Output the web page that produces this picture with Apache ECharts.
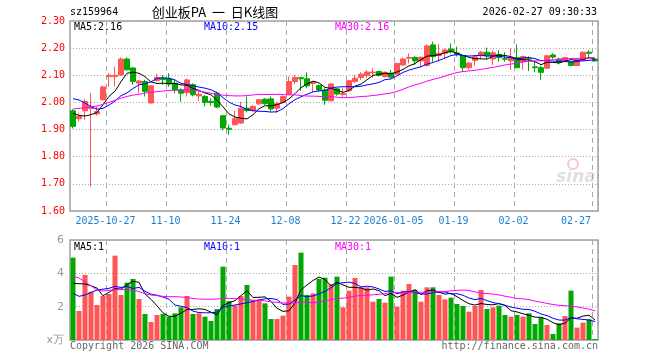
<!DOCTYPE html>
<html><head><meta charset="utf-8">
<script src="https://cdn.jsdelivr.net/npm/echarts@6/dist/echarts.min.js"></script>
<style>html,body{margin:0;padding:0;background:#fff}#c{width:660px;height:360px}</style>
</head><body><div id="c"></div>
<script>
const dates = [
'2025-10-17','2025-10-20','2025-10-21','2025-10-22','2025-10-23','2025-10-24','2025-10-27','2025-10-28','2025-10-29','2025-10-30',
'2025-10-31','2025-11-03','2025-11-04','2025-11-05','2025-11-06','2025-11-07','2025-11-10','2025-11-11','2025-11-12','2025-11-13',
'2025-11-14','2025-11-17','2025-11-18','2025-11-19','2025-11-20','2025-11-21','2025-11-24','2025-11-25','2025-11-26','2025-11-27',
'2025-11-28','2025-12-01','2025-12-02','2025-12-03','2025-12-04','2025-12-05','2025-12-08','2025-12-09','2025-12-10','2025-12-11',
'2025-12-12','2025-12-15','2025-12-16','2025-12-17','2025-12-18','2025-12-19','2025-12-22','2025-12-23','2025-12-24','2025-12-25',
'2025-12-26','2025-12-29','2025-12-30','2025-12-31','2026-01-05','2026-01-06','2026-01-07','2026-01-08','2026-01-09','2026-01-12',
'2026-01-13','2026-01-14','2026-01-15','2026-01-16','2026-01-19','2026-01-20','2026-01-21','2026-01-22','2026-01-23','2026-01-26',
'2026-01-27','2026-01-28','2026-01-29','2026-01-30','2026-02-02','2026-02-03','2026-02-04','2026-02-05','2026-02-06','2026-02-09',
'2026-02-10','2026-02-11','2026-02-12','2026-02-13','2026-02-24','2026-02-25','2026-02-26','2026-02-27'];

const opens = [
1.969,1.940,1.969,1.978,1.958,2.010,2.095,2.095,2.101,2.160,
2.127,2.071,2.077,1.998,2.081,2.089,2.089,2.071,2.046,2.036,
2.065,2.024,2.022,2.004,2.034,1.951,1.905,1.918,1.924,1.979,
1.970,1.995,2.012,2.013,1.979,2.000,2.030,2.077,2.091,2.087,
2.070,2.062,2.046,2.006,2.050,2.029,2.043,2.077,2.092,2.099,
2.109,2.114,2.095,2.108,2.104,2.138,2.163,2.166,2.153,2.136,
2.212,2.173,2.181,2.197,2.182,2.172,2.128,2.155,2.172,2.185,
2.160,2.177,2.161,2.153,2.165,2.151,2.162,2.131,2.128,2.126,
2.175,2.160,2.150,2.150,2.136,2.157,2.185,2.160];
const closes = [
1.912,1.948,2.003,1.985,1.966,2.057,2.100,2.100,2.160,2.120,
2.077,2.079,2.040,2.061,2.092,2.084,2.068,2.046,2.034,2.083,
2.028,2.030,2.000,2.000,1.983,1.906,1.901,1.940,1.979,1.970,
1.985,2.010,1.995,1.976,1.995,2.022,2.077,2.092,2.087,2.061,
2.075,2.046,2.008,2.068,2.031,2.033,2.080,2.089,2.104,2.112,
2.112,2.100,2.111,2.093,2.144,2.160,2.166,2.153,2.166,2.208,
2.169,2.181,2.193,2.188,2.177,2.128,2.145,2.168,2.185,2.172,
2.183,2.165,2.159,2.165,2.128,2.169,2.160,2.128,2.111,2.172,
2.167,2.148,2.165,2.136,2.157,2.185,2.181,2.153];
const lows = [
1.904,1.930,1.936,1.690,1.951,2.007,2.058,2.058,2.099,2.117,
2.065,2.034,2.022,1.996,2.077,2.065,2.058,2.034,2.003,2.022,
2.022,2.005,1.985,1.987,1.979,1.897,1.881,1.915,1.921,1.963,
1.967,1.991,1.991,1.967,1.961,1.997,2.028,2.068,2.043,2.052,
2.038,2.040,1.991,2.004,2.025,2.020,2.040,2.071,2.083,2.090,
2.092,2.095,2.092,2.088,2.102,2.135,2.144,2.138,2.130,2.132,
2.150,2.150,2.163,2.180,2.169,2.112,2.120,2.135,2.160,2.160,
2.138,2.150,2.150,2.120,2.126,2.120,2.115,2.111,2.083,2.124,
2.160,2.140,2.148,2.133,2.134,2.155,2.163,2.150];
const highs = [
1.975,1.962,2.012,2.034,1.985,2.062,2.108,2.132,2.166,2.166,
2.130,2.083,2.083,2.064,2.105,2.101,2.108,2.086,2.052,2.089,
2.071,2.040,2.028,2.016,2.040,1.954,1.918,1.969,2.003,2.022,
1.991,2.012,2.016,2.022,2.003,2.026,2.095,2.101,2.095,2.111,
2.079,2.066,2.052,2.071,2.053,2.052,2.083,2.101,2.111,2.119,
2.126,2.117,2.114,2.120,2.146,2.166,2.181,2.170,2.170,2.214,
2.224,2.216,2.199,2.218,2.206,2.175,2.150,2.175,2.190,2.202,
2.192,2.193,2.185,2.199,2.214,2.172,2.170,2.150,2.135,2.175,
2.181,2.165,2.168,2.152,2.160,2.187,2.193,2.163];
// volume in units of 10k (万)
const volumes = [
4.94,1.74,3.90,2.90,2.10,2.64,2.76,5.06,2.70,3.44,
3.66,2.46,1.56,1.08,1.50,1.56,1.40,1.60,1.96,2.64,
1.56,1.60,1.40,1.14,1.86,4.40,2.34,2.08,2.64,3.30,
2.40,2.40,2.20,1.26,1.26,1.46,2.60,4.50,5.24,2.70,
2.80,3.66,3.74,3.35,3.80,1.96,2.96,3.72,3.16,3.16,
2.30,2.46,2.24,3.80,2.00,2.96,3.36,3.00,2.30,3.16,
3.16,2.70,2.44,2.54,2.16,2.04,1.70,2.04,3.00,1.86,
1.96,2.06,1.50,1.40,1.50,1.40,1.60,0.96,1.36,0.90,
0.36,1.00,1.44,2.96,0.74,1.04,1.24,0.06];

const ma5Head = [1.960,1.952,1.950,1.955];
const ma10Head = [2.014,2.009,1.998,1.985,1.975,1.978,1.990,2.005,2.025];
const ma30Head = [1.976,1.978,1.981,1.984,1.987,1.993,2.000,2.008,2.016,2.022,
  2.027,2.030,2.034,2.037,2.040,2.042,2.044,2.045,2.046,2.046,
  2.045,2.042,2.038,2.034,2.030,2.027,2.025,2.024,2.024];
const vma5Head = [3.40,3.38,3.36,3.25];
const vma10Head = [2.80,2.62,2.70,2.85,3.00,3.05,3.10,3.22,3.15];
const vma30Head = [3.84,3.72,3.50,3.25,3.00,2.94,2.98,3.02,3.03,3.02,
  3.00,2.90,2.78,2.70,2.66,2.62,2.60,2.60,2.58,2.56,
  2.48,2.46,2.45,2.45,2.46,2.50,2.50,2.48,2.45];

const tickDates = ['2025-10-27','2025-11-10','2025-11-24','2025-12-08','2025-12-22','2026-01-05','2026-01-19','2026-02-02','2026-02-27'];
const tickLabels = ['2025-10-27','11-10','11-24','12-08','12-22','2026-01-05','01-19','02-02','02-27'];

const headerCode = 'sz159964';
const headerTitle = '创业板PA  一  日K线图';
const headerTime = '2026-02-27 09:30:33';
const legendMain = ['MA5:2.16','MA10:2.15','MA30:2.16'];
const legendVol = ['MA5:1','MA10:1','MA30:1'];

function ma(vals, n, head) {
  return vals.map((v, i) => {
    if (i < n - 1) return head[i];
    let s = 0; for (let j = i - n + 1; j <= i; j++) s += vals[j];
    return +(s / n).toFixed(4);
  });
}

const RED = '#ff5555', GREEN = '#00a800';
const MONO = '"DejaVu Sans Mono", "Liberation Mono", monospace';
const candleData = opens.map((o, i) => [o, closes[i], lows[i], highs[i]]);
const volData = volumes.map((v, i) => ({ value: v, itemStyle: { color: closes[i] >= opens[i] ? RED : GREEN } }));

const isTick = (idx, val) => tickDates.indexOf(val) >= 0;

function xAxisCfg(gridIndex, showLabel) {
  return {
    type: 'category', gridIndex, data: dates, boundaryGap: true,
    axisLine: { show: false }, axisTick: { show: false },
    axisLabel: {
      show: showLabel, interval: isTick, margin: 5,
      color: '#1a7fd0', fontFamily: MONO, fontSize: 10,
      formatter: (val) => {
        const t = tickLabels[tickDates.indexOf(val)];
        return val === '2026-02-27' ? '{b|' + t + '}' : '{a|' + t + '}';
      },
      rich: { a: { padding: [0, 7, 0, 0] }, b: { padding: [0, 38, 0, 0] } }
    },
    splitLine: { show: true, interval: isTick, lineStyle: { color: '#a8a8a8', type: [5, 4], width: 1 } }
  };
}

const lineS = (name, data, color, xi, yi) => ({
  name, type: 'line', data, xAxisIndex: xi, yAxisIndex: yi, symbol: 'none', showSymbol: false,
  lineStyle: { color, width: 1 }, itemStyle: { color }, silent: true, z: 3
});

const option = {
  animation: false,
  backgroundColor: '#fff',
  grid: [
    { left: 70, right: 62, top: 21, height: 190, show: true, borderColor: '#a0a0a0', borderWidth: 1.5, outerBoundsMode: 'none' },
    { left: 70, right: 62, top: 240, height: 100, show: true, borderColor: '#a0a0a0', borderWidth: 1.5, outerBoundsMode: 'none' }
  ],
  xAxis: [xAxisCfg(0, true), xAxisCfg(1, false)],
  yAxis: [
    { type: 'value', gridIndex: 0, min: 1.6, max: 2.3, interval: 0.1, scale: true,
      axisLine: { show: false }, axisTick: { show: false },
      axisLabel: { color: '#ff0000', fontFamily: MONO, fontSize: 10, margin: 5, formatter: v => v.toFixed(2) },
      splitLine: { lineStyle: { color: '#a8a8a8', type: [1, 2] } } },
    { type: 'value', gridIndex: 1, min: 0, max: 6, interval: 2,
      axisLine: { show: false }, axisTick: { show: false },
      axisLabel: { color: '#999', fontFamily: 'DejaVu Sans, sans-serif', fontSize: 11, margin: 6,
        formatter: v => v === 0 ? 'x万' : String(v) },
      splitLine: { lineStyle: { color: '#a8a8a8', type: [1, 2] } } }
  ],
  series: [
    { type: 'candlestick', xAxisIndex: 0, yAxisIndex: 0, data: candleData, barWidth: 5,
      itemStyle: { color: RED, color0: GREEN, borderColor: RED, borderColor0: GREEN, borderWidth: 1 }, z: 2 },
    lineS('MA5', ma(closes, 5, ma5Head), '#000000', 0, 0),
    lineS('MA10', ma(closes, 10, ma10Head), '#0000ff', 0, 0),
    lineS('MA30', ma(closes, 30, ma30Head), '#ff00ff', 0, 0),
    { type: 'bar', xAxisIndex: 1, yAxisIndex: 1, data: volData, barWidth: 5, z: 2 },
    lineS('VMA5', ma(volumes, 5, vma5Head), '#000000', 1, 1),
    lineS('VMA10', ma(volumes, 10, vma10Head), '#0000ff', 1, 1),
    lineS('VMA30', ma(volumes, 30, vma30Head), '#ff00ff', 1, 1)
  ],
  graphic: [
    { type: 'text', left: 70, top: 7, style: { text: headerCode, font: '10px ' + MONO, fill: '#000' } },
    { type: 'text', x: 215, y: 12, style: { text: headerTitle, font: '13px "Noto Sans CJK SC", sans-serif', fill: '#000', textAlign: 'center', textVerticalAlign: 'middle' } },
    { type: 'text', right: 63, top: 7, style: { text: headerTime, font: '10px ' + MONO, fill: '#000' } },
    { type: 'text', left: 74, top: 22, style: { text: legendMain[0], font: '10px ' + MONO, fill: '#000' } },
    { type: 'text', left: 204, top: 22, style: { text: legendMain[1], font: '10px ' + MONO, fill: '#0000ff' } },
    { type: 'text', left: 335, top: 22, style: { text: legendMain[2], font: '10px ' + MONO, fill: '#ff00ff' } },
    { type: 'text', left: 74, top: 242, style: { text: legendVol[0], font: '10px ' + MONO, fill: '#000' } },
    { type: 'text', left: 204, top: 242, style: { text: legendVol[1], font: '10px ' + MONO, fill: '#0000ff' } },
    { type: 'text', left: 335, top: 242, style: { text: legendVol[2], font: '10px ' + MONO, fill: '#ff00ff' } },
    { type: 'text', left: 70, top: 341, style: { text: 'Copyright 2026 SINA.COM', font: '10px ' + MONO, fill: '#666' } },
    { type: 'text', right: 62, top: 341, style: { text: 'http://finance.sina.com.cn', font: '10px ' + MONO, fill: '#666' } },
    { type: 'circle', shape: { cx: 573, cy: 164, r: 5 }, style: { fill: 'none', stroke: '#f4c8c8', lineWidth: 2 } },
    { type: 'text', x: 576, y: 178, style: { text: 'sina', font: 'italic bold 17px "DejaVu Sans", sans-serif', fill: '#e0e0e0', textAlign: 'center', textVerticalAlign: 'middle' } }
  ]
};

const chart = echarts.init(document.getElementById('c'), null, { renderer: 'canvas' });
chart.setOption(option);
</script>
</body></html>
